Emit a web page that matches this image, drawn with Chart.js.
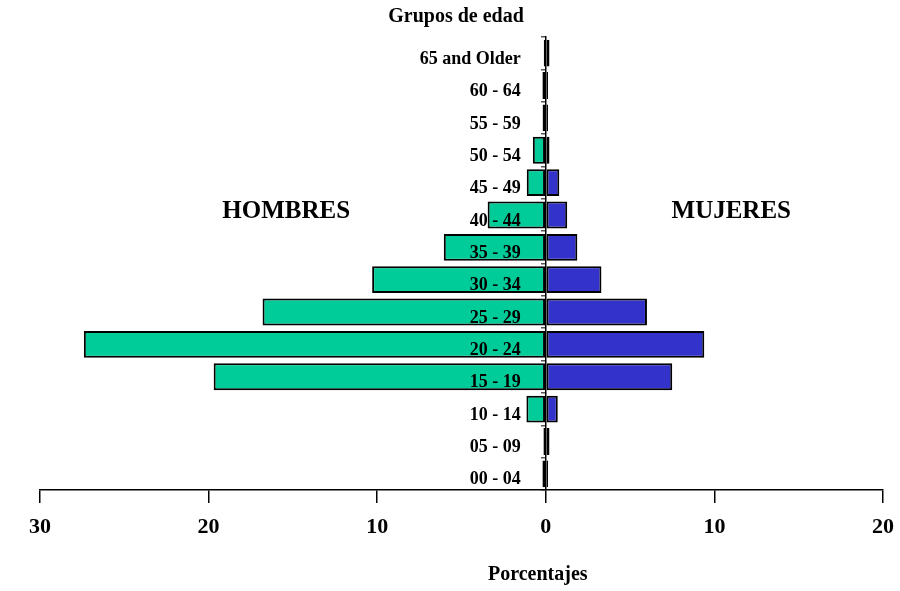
<!DOCTYPE html>
<html>
<head>
<meta charset="utf-8">
<title>Grupos de edad</title>
<script src="https://cdn.jsdelivr.net/npm/chart.js@4/dist/chart.umd.min.js"></script>
<style>
  html, body { margin: 0; padding: 0; background: #fff; }
  #wrap { width: 900px; height: 591px; }
</style>
</head>
<body>
<div id="wrap"><canvas id="pyramid" width="900" height="591"></canvas></div>
<script>
// age groups, youngest first (drawn bottom-up)
const grupos = ['00 - 04', '05 - 09', '10 - 14', '15 - 19', '20 - 24', '25 - 29', '30 - 34',
                '35 - 39', '40 - 44', '45 - 49', '50 - 54', '55 - 59', '60 - 64', '65 and Older'];
// percentages
const hombres = [0.2, 0.14, 1.15, 19.7, 27.4, 16.8, 10.3, 6.05, 3.45, 1.13, 0.77, 0.19, 0.2, 0.12];
const mujeres = [0.13, 0.22, 0.71, 7.5, 9.4, 6.0, 3.3, 1.87, 1.27, 0.8, 0.22, 0.13, 0.13, 0.22];
const xTicks = [-30, -20, -10, 0, 10, 20];

const SERIF = "'Liberation Serif', 'Times New Roman', serif";
const bold = (size) => ({ family: SERIF, size, weight: 'bold' });

// age labels sit over the bars, left of the centre axis; captions placed from the scales
const overlay = {
  id: 'overlay',
  afterDatasetsDraw(chart) {
    const { ctx, scales: { x, y } } = chart;
    const x0 = x.getPixelForValue(0);
    ctx.save();
    ctx.fillStyle = '#000';
    ctx.textBaseline = 'middle';
    ctx.textAlign = 'right';
    ctx.font = `bold 18px ${SERIF}`;
    grupos.forEach((g, i) => ctx.fillText(g, x0 - 25, y.getPixelForValue(i) + 6));

    ctx.font = `bold 20px ${SERIF}`;
    ctx.fillText('Grupos de edad', x0 - 22, 17);

    ctx.textAlign = 'center';
    ctx.fillText('Porcentajes', x0 - 8, 575);

    const yRow = y.getPixelForValue(grupos.indexOf('40 - 44')) - 3;
    ctx.font = `bold 25px ${SERIF}`;
    ctx.fillText('HOMBRES', x.getPixelForValue(-15.4), yRow);
    ctx.fillText('MUJERES', x.getPixelForValue(11.0), yRow);
    ctx.restore();
  }
};

new Chart(document.getElementById('pyramid'), {
  type: 'bar',
  data: {
    labels: grupos,
    datasets: [
      { label: 'Hombres', data: hombres.map(v => -v), backgroundColor: '#00CC99',
        borderColor: '#000', borderWidth: 2, borderSkipped: false },
      { label: 'Mujeres', data: mujeres, backgroundColor: '#3333CC',
        borderColor: '#000', borderWidth: 2, borderSkipped: false }
    ]
  },
  options: {
    indexAxis: 'y',
    responsive: false,
    animation: false,
    devicePixelRatio: 1,
    categoryPercentage: 1,
    barPercentage: 0.83,
    layout: { padding: { left: 40, right: 17, top: 37, bottom: 0 } },
    plugins: { legend: { display: false }, tooltip: { enabled: false }, title: { display: false } },
    scales: {
      x: {
        stacked: true,
        min: -30, max: 20,
        afterBuildTicks: s => { s.ticks = xTicks.map(v => ({ value: v })); },
        afterFit: s => { s.height = 101; s.paddingLeft = 0; s.paddingRight = 0; },
        border: { display: true, color: '#000', width: 1.5 },
        grid: { drawOnChartArea: false, drawTicks: true, tickLength: 13, color: '#000', lineWidth: 1.5 },
        ticks: { color: '#000', font: bold(22), padding: 11, maxRotation: 0,
                 callback: v => String(Math.abs(v)) }
      },
      y: {
        stacked: true,
        reverse: true,
        position: { x: 0 },
        border: { display: true, color: '#000', width: 1.5 },
        grid: { drawOnChartArea: false, drawTicks: true, tickLength: 4, color: '#555', lineWidth: 1.5, offset: true },
        ticks: { display: false }
      }
    }
  },
  plugins: [overlay]
});
</script>
</body>
</html>
